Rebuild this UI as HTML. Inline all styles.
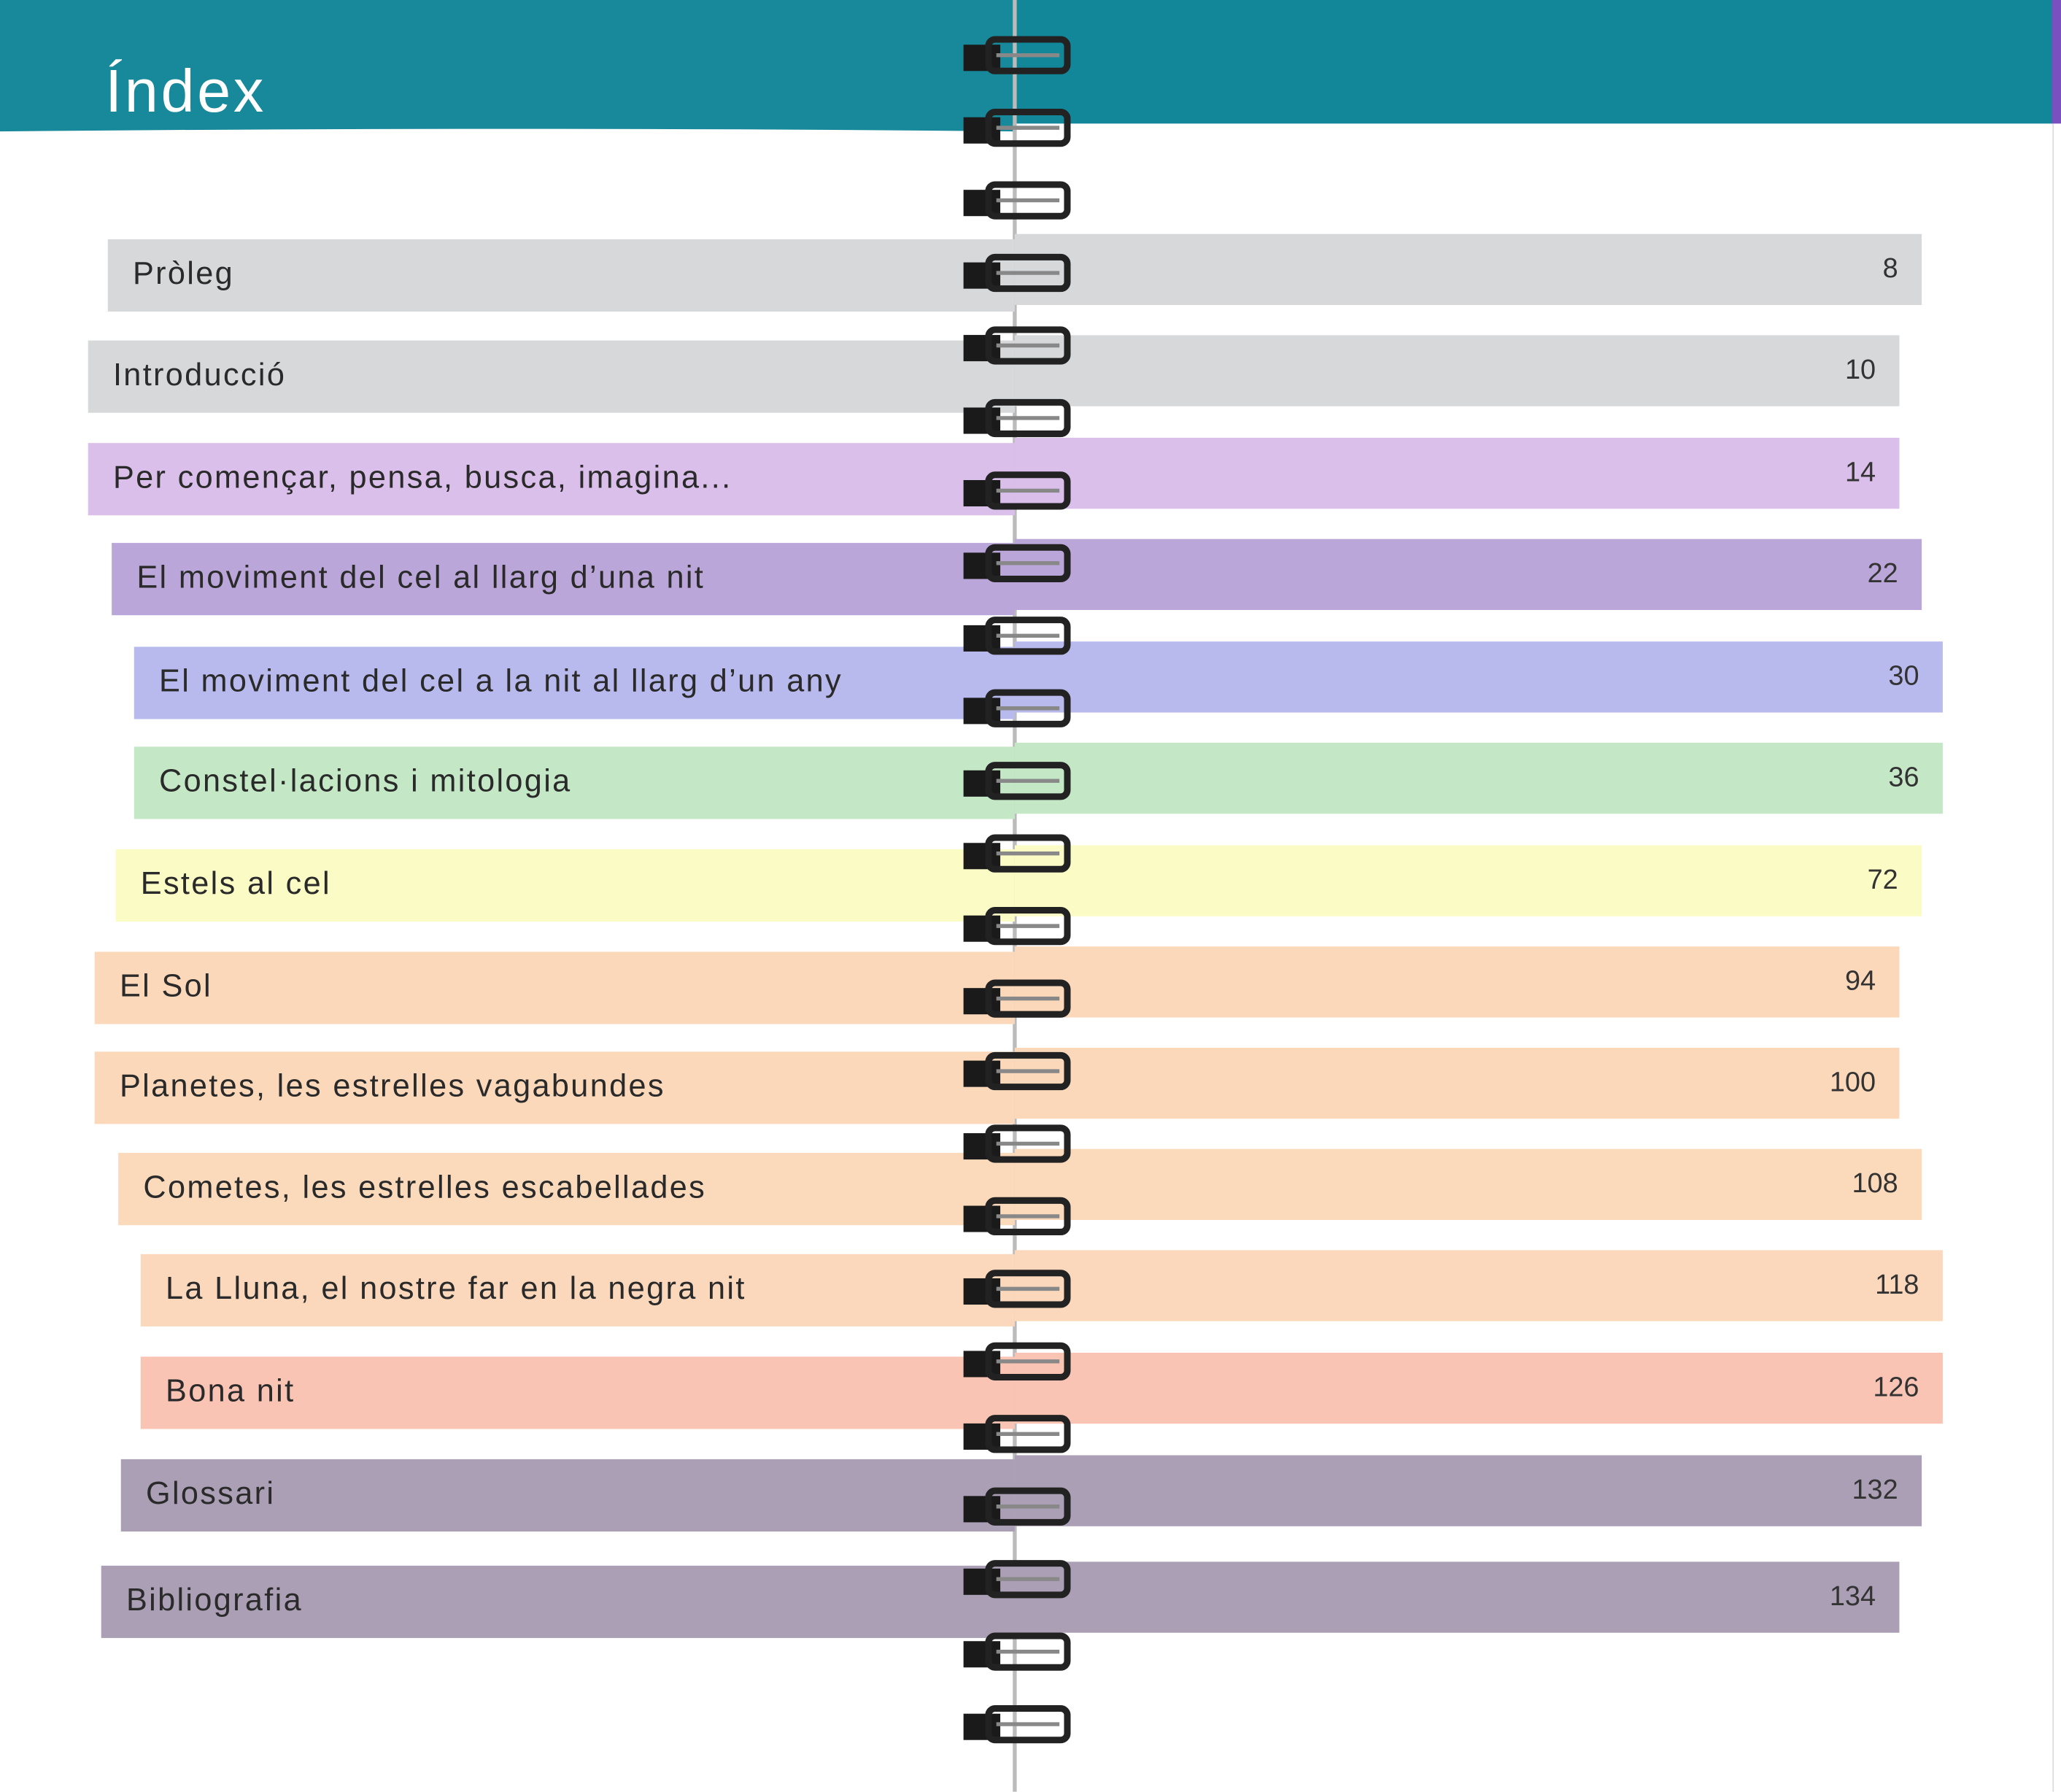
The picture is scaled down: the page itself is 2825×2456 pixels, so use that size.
<!DOCTYPE html>
<html><head><meta charset="utf-8"><style>
html,body{margin:0;padding:0;width:2825px;height:2456px;overflow:hidden;background:#fff}
#w{position:absolute;left:0;top:0;width:1568px;height:1363px;transform:scale(1.8017);transform-origin:0 0;font-family:"Liberation Sans","DejaVu Sans",sans-serif}
.b{position:absolute}
.t{position:absolute;font-size:24px;letter-spacing:1.3px;color:#2a2a2a;white-space:nowrap}
.n{position:absolute;font-size:21px;color:#333;text-align:right;width:60px}
</style></head><body><div id="w">
<svg class="b" style="left:0;top:0" width="1568" height="1363">
<path d="M0 0H772V100Q400 96 0 100Z" fill="#17899a"/>
<path d="M772 0H1562V94H772Z" fill="#13879a"/>
<rect x="1561" y="0" width="7" height="94" fill="#7a4fc0"/>
<line x1="1562" y1="94" x2="1562" y2="1363" stroke="#ddd" stroke-width="1"/>
<line x1="772" y1="0" x2="772" y2="1363" stroke="#bbb" stroke-width="3"/>
<g id="bars"></g>
</svg>
<div class="t" style="left:80px;top:42px;font-size:46px;letter-spacing:2px;color:#fff">Índex</div>
<div id="rows"></div>
<svg class="b" style="left:0;top:0" width="1568" height="1363" id="rings"></svg>
<script>
var R=[
["Pròleg","8",82,182,1462,178,"#d6d8d9"],
["Introducció","10",67,259,1445,255,"#d6d8d9"],
["Per començar, pensa, busca, imagina...","14",67,337,1445,333,"#d9bfea"],
["El moviment del cel al llarg d’una nit","22",85,413,1462,410,"#baa6d8"],
["El moviment del cel a la nit al llarg d’un any","30",102,492,1478,488,"#b8b9ec"],
["Constel·lacions i mitologia","36",102,568,1478,565,"#c4e8c6"],
["Estels al cel","72",88,646,1462,643,"#fbfbc6"],
["El Sol","94",72,724,1445,720,"#fbd8ba"],
["Planetes, les estrelles vagabundes","100",72,800,1445,797,"#fbd8ba"],
["Cometes, les estrelles escabellades","108",90,877,1462,874,"#fbd9bb"],
["La Lluna, el nostre far en la negra nit","118",107,954,1478,951,"#fbd8bb"],
["Bona nit","126",107,1032,1478,1029,"#f9c4b4"],
["Glossari","132",92,1110,1462,1107,"#ab9fb5"],
["Bibliografia","134",77,1191,1445,1188,"#aa9fb4"]];
var s='',h='';
R.forEach(function(r){
s+='<rect x="'+r[2]+'" y="'+r[3]+'" width="'+(772-r[2])+'" height="55" fill="'+r[6]+'"/>';
s+='<rect x="772" y="'+r[5]+'" width="'+(r[4]-772)+'" height="54" fill="'+r[6]+'"/>';
h+='<div class="t" style="left:'+(r[2]+19)+'px;top:'+(r[3]+13)+'px">'+r[0]+'</div>';
h+='<div class="n" style="left:'+(r[4]-78)+'px;top:'+(r[5]+15)+'px">'+r[1]+'</div>';
});
document.getElementById('bars').innerHTML=s;
document.getElementById('rows').innerHTML=h;
var g='';
for(var i=0;i<24;i++){var y=30+i*55.2;
g+='<rect x="733" y="'+(y+4)+'" width="28" height="20" fill="#1a1a1a"/>';
g+='<rect x="752" y="'+y+'" width="60" height="24" rx="5" fill="none" stroke="#222" stroke-width="5"/>';
g+='<line x1="758" y1="'+(y+12)+'" x2="806" y2="'+(y+12)+'" stroke="#888" stroke-width="3"/>';}
document.getElementById('rings').innerHTML=g;
</script>
</div></body></html>
